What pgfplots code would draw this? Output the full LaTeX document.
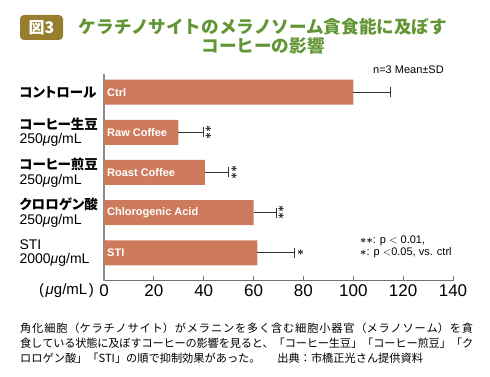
\documentclass[border=0pt]{standalone}
\usepackage{pgfplots}
\pgfplotsset{compat=1.18}
\usepackage{fontspec}
\setmainfont{Liberation Sans}
\newfontfamily\jp[RawFeature=+palt]{Noto Sans CJK JP}
\newfontfamily\jpr{Noto Sans CJK JP}
\definecolor{barc}{RGB}{205,123,92}
\definecolor{ttl}{RGB}{98,150,52}
\definecolor{badge}{RGB}{150,126,46}
\definecolor{axg}{RGB}{140,140,140}
\newcommand{\J}[1]{{\jp\bfseries\fontsize{13.5}{14.5}\selectfont #1}}
\newcommand{\mug}{\textit{μ}g/mL}
\newcommand{\st}{{\boldmath$\ast$}}
\begin{document}
\begin{tikzpicture}[x=1pt,y=1pt]
\path (0,0) rectangle (490,377);
\fill[badge, rounded corners=4pt] (20,337) rectangle (63,362);
\node[white, font=\jpr\bfseries\fontsize{16}{16}\selectfont] at (41.5,349.5) {図3};
\node[ttl, align=center, font=\jpr\bfseries\fontsize{17.6}{19}\selectfont] at (263,341) {ケラチノサイトのメラノソーム貪食能に及ぼす\\コーヒーの影響};
\begin{axis}[at={(104pt,96pt)}, anchor=south west, scale only axis,
  width=349pt, height=207pt,
  xmin=0, xmax=140, ymin=-0.7, ymax=4.45,
  axis x line=bottom, axis y line=left,
  x axis line style={-, line width=1pt, black!55},
  y axis line style={-, line width=1.5pt, axg},
  tick align=inside, major tick length=5pt,
  xtick={0,20,...,140},
  xtick style={black!55, line width=0.8pt},
  xticklabel style={font=\fontsize{17}{17}\selectfont},
  /pgf/number format/assume math mode=true,
  ytick={0,...,4},
  ytick style={draw=none},
  yticklabels={{STI\\2000\mug},{\J{クロロゲン酸}\\250\mug},{\J{コーヒー煎豆}\\250\mug},{\J{コーヒー生豆}\\250\mug},{\J{コントロール}}},
  yticklabel style={anchor=west, xshift=-88pt, align=left, font=\fontsize{14}{14.5}\selectfont},
  clip=false,
]
\addplot[xbar, bar width=25pt, fill=barc, draw=none,
  error bars/.cd, x dir=plus, x explicit,
  error bar style={line width=1pt, black!80},
  error mark options={line width=1pt, black!80, mark size=5pt, rotate=90}]
  coordinates {(61.5,0) +- (15.1,0) (60,1) +- (9,0) (40.5,2) +- (9.6,0) (29.8,3) +- (10,0) (100,4) +- (15,0)};
\foreach \i/\t in {4/Ctrl,3/Raw Coffee,2/Roast Coffee,1/Chlorogenic Acid,0/STI}{
  \edef\tmp{\noexpand\node[anchor=west, white, inner sep=0, xshift=3pt, font=\noexpand\bfseries\noexpand\fontsize{11}{11}\noexpand\selectfont] at (axis cs:0,\i) {\t};}\tmp
}
\node[rotate=-90, inner sep=0, yshift=5pt, font=\fontsize{12}{12}\selectfont] at (axis cs:39.8,3) {\st\st};
\node[rotate=-90, inner sep=0, yshift=5pt, font=\fontsize{12}{12}\selectfont] at (axis cs:50.1,2) {\st\st};
\node[rotate=-90, inner sep=0, yshift=5pt, font=\fontsize{12}{12}\selectfont] at (axis cs:69,1) {\st\st};
\node[anchor=west, inner sep=0, font=\fontsize{12}{12}\selectfont] at (axis cs:76.6,0) [xshift=2pt] {\st};
\end{axis}
\node[anchor=west, inner sep=0, font=\fontsize{11}{11}\selectfont] at (373,307) {n=3 Mean±SD};
\node[anchor=west, inner sep=0, align=left, font=\fontsize{11}{12.5}\selectfont] at (360,130) {\st\st: p $<$ 0.01,\\\st: p $<$0.05, vs. ctrl};
\node[anchor=east, inner sep=0, font=\fontsize{15}{15}\selectfont] at (94,86) {(\hspace{1.5pt}\textit{μ}g/mL\hspace{1.5pt})};
\node[anchor=north west, inner sep=0] at (20,54) {\parbox[t]{453pt}{\XeTeXlinebreaklocale "ja"\XeTeXlinebreakskip=0pt plus 2pt minus 1pt\relax\jpr\fontsize{11.2}{14.7}\selectfont 角化細胞（ケラチノサイト）がメラニンを多く含む細胞小器官（メラノソーム）を貪\linebreak 食している状態に及ぼすコーヒーの影響を見ると、「コーヒー生豆」「コーヒー煎豆」「ク\linebreak ロロゲン酸」「STI」の順で抑制効果があった。\hspace{1.5em}出典：市橋正光さん提供資料}};
\end{tikzpicture}
\end{document}
